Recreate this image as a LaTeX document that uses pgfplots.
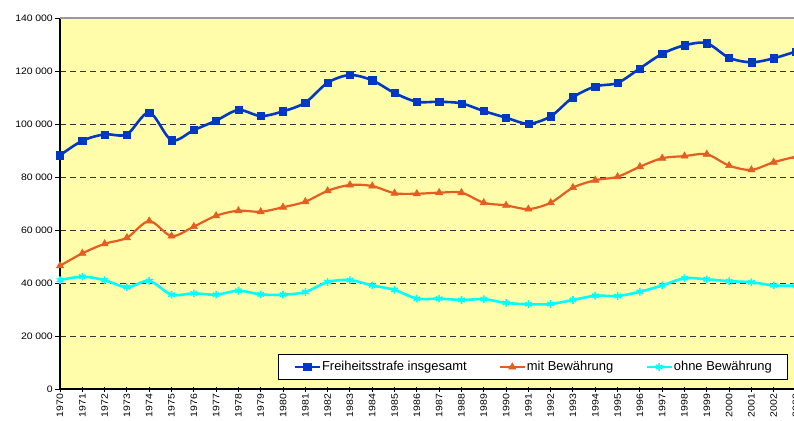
\documentclass[border=0pt]{standalone}
\usepackage{pgfplots}
\pgfplotsset{compat=1.18}
\usepackage{pgfplotstable}
\usepackage{fontspec}
\setmainfont{Liberation Sans}
\newfontfamily\tickfont[FakeStretch=1.12]{Liberation Sans}
\definecolor{bgY}{RGB}{255,252,170}
\definecolor{cBlue}{RGB}{0,56,196}
\definecolor{cOrange}{RGB}{228,94,34}
\definecolor{cCyan}{RGB}{0,255,255}
\newcommand{\ts}{\hspace{2.5bp}}

\pgfplotstableread{
year ges mit ohne
1970 88300 46600 41200
1971 93800 51300 42500
1972 96200 54900 41200
1973 96200 57200 38500
1974 104500 63500 40900
1975 94000 57800 35700
1976 97800 61400 36200
1977 101400 65500 35700
1978 105400 67400 37200
1979 103100 67000 35800
1980 104900 68700 35700
1981 108200 70800 36700
1982 115700 74900 40500
1983 118600 77100 41200
1984 116600 76700 39200
1985 111800 74000 37500
1986 108500 73800 34200
1987 108500 74200 34200
1988 107900 74200 33700
1989 105000 70400 34000
1990 102500 69400 32600
1991 100200 68000 32100
1992 103000 70400 32200
1993 110200 76100 33700
1994 114300 78900 35300
1995 115600 80200 35200
1996 121100 84000 36800
1997 126600 87200 39200
1998 129800 88000 41900
1999 130600 88700 41500
2000 125100 84400 40800
2001 123400 82800 40400
2002 124900 85700 39200
2003 127500 87800 39100
}\datatable

\begin{document}
\begin{tikzpicture}
\useasboundingbox (0,0) rectangle (794bp,421bp);
\clip (0,0) rectangle (794bp,421bp);
\begin{axis}[
  at={(60bp,31.7bp)}, anchor=south west,
  scale only axis, width=736bp, height=371bp,
  xmin=1970, xmax=2003, ymin=0, ymax=140000,
  clip=false,
  axis x line*=bottom, axis y line*=left,
  axis line style={black, line width=1.6bp},
  axis background/.style={fill=bgY},
  xtick={1970,1971,...,2003},
  ytick={0,20000,40000,60000,80000,100000,120000,140000},
  yticklabels={0,20\ts000,40\ts000,60\ts000,80\ts000,100\ts000,120\ts000,140\ts000},
  xtick align=center, ytick align=outside,
  major tick length=5bp,
  tick style={black, line width=1bp},
  xticklabel={\pgfmathtruncatemacro{\yr}{\tick+0.5}\yr},
  ticklabel style={font=\tickfont\fontsize{9.4}{10}\selectfont},
  xticklabel style={rotate=90, anchor=east, inner sep=2bp},
  yticklabel style={anchor=east, inner sep=2bp},
  scaled y ticks=false,
  ymajorgrids,
  major grid style={black!80, line width=1.1bp, dash pattern=on 5.5bp off 4.5bp},
  legend columns=3,
  legend cell align=left,
  legend style={at={(0.9895,0.0951)}, anchor=north east, draw=black, line width=0.9bp, fill=white,
    inner xsep=15bp, inner ysep=4bp,
    font=\fontsize{13}{15}\selectfont,
    nodes={inner xsep=1bp, inner ysep=2bp, text height=10bp, text depth=3bp},
    /tikz/every even column/.append style={column sep=31bp}},
  legend image code/.code={\draw[mark repeat=2,mark phase=2,#1] plot coordinates {(0bp,0bp) (12.5bp,0bp) (25bp,0bp)};},
]
\addplot[cBlue, line width=2.6bp, smooth, tension=0.5, mark=square*, mark size=3.6bp, mark options={solid, line width=0.5bp}] table[x=year, y=ges] {\datatable};
\addlegendentry{Freiheitsstrafe insgesamt}
\addplot[cOrange, line width=2.2bp, smooth, tension=0.5, mark=triangle*, mark size=4.2bp, mark options={solid, line width=0.5bp}] table[x=year, y=mit] {\datatable};
\addlegendentry{mit Bewährung}
\addplot[cCyan, line width=2.6bp, smooth, tension=0.5, mark=asterisk, mark size=3.8bp, mark options={solid, line width=1.6bp}] table[x=year, y=ohne] {\datatable};
\addlegendentry{ohne Bewährung}
\draw[black!40, line width=2bp] (rel axis cs:0,1) -- (rel axis cs:1.02,1);
\end{axis}
\end{tikzpicture}
\end{document}
